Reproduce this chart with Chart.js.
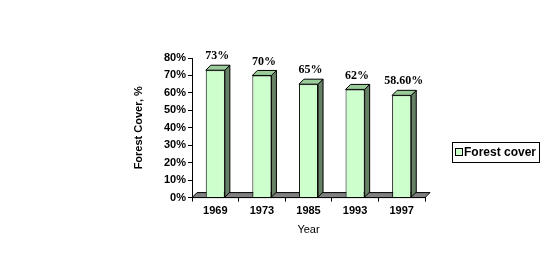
<!DOCTYPE html>
<html>
<head>
<meta charset="utf-8">
<script src="https://cdn.jsdelivr.net/npm/chart.js@4/dist/chart.umd.min.js"></script>
<style>
  html, body { margin: 0; padding: 0; background: #fff; }
  #wrap { position: relative; width: 549px; height: 266px; }
</style>
</head>
<body>
<div id="wrap"><canvas id="forestChart" width="549" height="266"></canvas></div>
<script>
// chart data
const years = ['1969', '1973', '1985', '1993', '1997'];
const forestCover = [73, 70, 65, 62, 58.6];
const valueLabels = ['73%', '70%', '65%', '62%', '58.60%'];
const yTicks = [0, 10, 20, 30, 40, 50, 60, 70, 80];

const DX = 5, DY = -5; // 3d depth

// draws floor, side/top faces and value labels
const box3d = {
    id: 'box3d',
    beforeDatasetsDraw(chart) {
        const ctx = chart.ctx;
        const a = chart.chartArea;
        ctx.save();
        ctx.fillStyle = '#808080';
        ctx.strokeStyle = '#000';
        ctx.lineWidth = 1;
        ctx.beginPath();
        ctx.moveTo(a.left, a.bottom);
        ctx.lineTo(a.right, a.bottom);
        ctx.lineTo(a.right + DX, a.bottom + DY);
        ctx.lineTo(a.left + DX, a.bottom + DY);
        ctx.closePath();
        ctx.fill();
        ctx.stroke();
        ctx.restore();
    },
    afterDatasetsDraw(chart) {
        const ctx = chart.ctx;
        const meta = chart.getDatasetMeta(0);
        ctx.save();
        ctx.strokeStyle = '#000';
        ctx.lineWidth = 1;
        meta.data.forEach((bar, i) => {
            const l = bar.x - bar.width / 2, r = bar.x + bar.width / 2;
            const t = bar.y, b = bar.base;
            // side
            ctx.fillStyle = '#668066';
            ctx.beginPath();
            ctx.moveTo(r, b);
            ctx.lineTo(r, t);
            ctx.lineTo(r + DX, t + DY);
            ctx.lineTo(r + DX, b + DY);
            ctx.closePath();
            ctx.fill();
            ctx.stroke();
            // top
            ctx.fillStyle = '#99cc99';
            ctx.beginPath();
            ctx.moveTo(l, t);
            ctx.lineTo(r, t);
            ctx.lineTo(r + DX, t + DY);
            ctx.lineTo(l + DX, t + DY);
            ctx.closePath();
            ctx.fill();
            ctx.stroke();
            // label
            ctx.fillStyle = '#000';
            ctx.font = 'bold 12px "Liberation Serif", serif';
            ctx.textAlign = 'center';
            ctx.textBaseline = 'bottom';
            ctx.fillText(valueLabels[i], bar.x + 2, t + DY - 3);
        });
        ctx.restore();
    },
    afterDraw(chart) {
        // legend box
        const ctx = chart.ctx;
        ctx.save();
        ctx.strokeStyle = '#000';
        ctx.lineWidth = 1;
        ctx.fillStyle = '#fff';
        ctx.fillRect(452.5, 142.5, 87, 20);
        ctx.strokeRect(452.5, 142.5, 87, 20);
        ctx.fillStyle = '#ccffcc';
        ctx.fillRect(455.5, 148.5, 7, 7);
        ctx.strokeRect(455.5, 148.5, 7, 7);
        ctx.fillStyle = '#000';
        ctx.font = 'bold 12px "Liberation Sans", Arial, sans-serif';
        ctx.textAlign = 'left';
        ctx.textBaseline = 'middle';
        ctx.fillText('Forest cover', 464, 153);
        ctx.restore();
    }
};

new Chart(document.getElementById('forestChart'), {
    type: 'bar',
    data: {
        labels: years,
        datasets: [{
            label: 'Forest cover',
            data: forestCover,
            backgroundColor: '#ccffcc',
            borderColor: '#000',
            borderWidth: 1,
            categoryPercentage: 1,
            barPercentage: 0.41
        }]
    },
    options: {
        responsive: false,
        animation: false,
        devicePixelRatio: 1,
        layout: { padding: { left: 128, right: 124, top: 58, bottom: 25 } },
        plugins: {
            legend: { display: false },
            tooltip: { enabled: false }
        },
        scales: {
            x: {
                grid: { drawOnChartArea: false, tickLength: 4, color: '#000' },
                border: { color: '#000' },
                ticks: {
                    color: '#000',
                    padding: 3,
                    font: { family: '"Liberation Sans", Arial', size: 11, weight: 'bold' }
                },
                title: {
                    display: true,
                    text: 'Year',
                    color: '#000',
                    padding: { top: 3 },
                    font: { family: '"Liberation Sans", Arial', size: 11 }
                }
            },
            y: {
                min: 0,
                max: 80,
                afterFit(s) { s.width = 64; },
                afterBuildTicks(s) { s.ticks = yTicks.map(v => ({ value: v })); },
                grid: { drawOnChartArea: false, tickLength: 4, color: '#000' },
                border: { color: '#000' },
                ticks: {
                    color: '#000',
                    padding: 2,
                    font: { family: '"Liberation Sans", Arial', size: 11, weight: 'bold' },
                    callback: v => v + '%'
                },
                title: {
                    display: true,
                    text: 'Forest Cover, %',
                    color: '#000',
                    font: { family: '"Liberation Sans", Arial', size: 11, weight: 'bold' }
                }
            }
        }
    },
    plugins: [box3d]
});
</script>
</body>
</html>
